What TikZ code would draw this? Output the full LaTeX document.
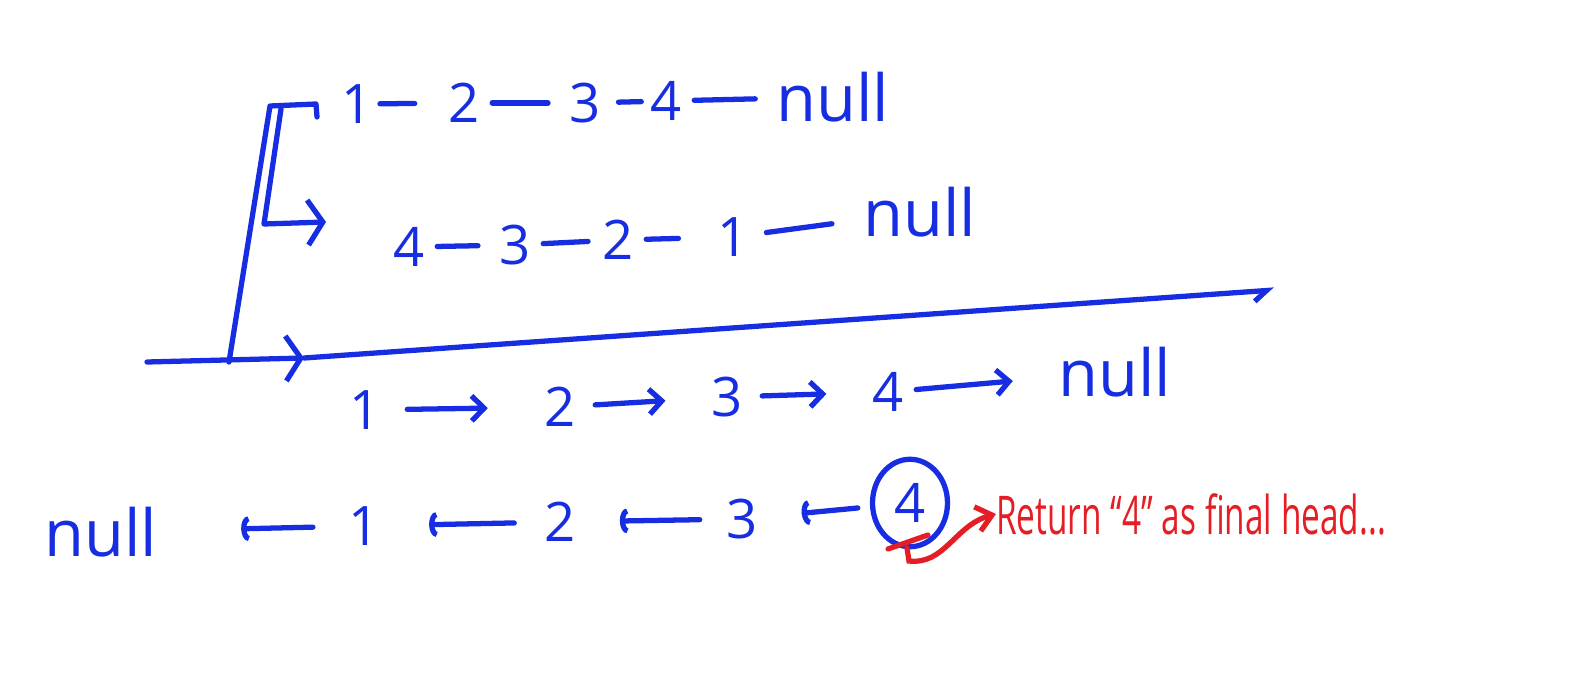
\documentclass[tikz,border=0pt]{standalone}
\usepackage{fontspec}
\usepackage{graphicx}
\setmainfont{Open Sans}
\usetikzlibrary{arrows.meta, positioning, shapes.geometric}
\definecolor{penblue}{RGB}{22,45,225}
\definecolor{penred}{RGB}{228,30,36}
\tikzset{
    item/.style={text=penblue, font=\fontsize{31}{36}\selectfont, inner sep=2pt},
    nullitem/.style={item, font=\fontsize{37}{40}\selectfont},
    headitem/.style={item, ellipse, draw=penblue, line width=3pt, minimum width=1.5cm, minimum height=1.75cm, inner sep=0pt},
    note/.style={text=penred, font=\fontsize{19}{22}\selectfont, inner sep=0pt},
    pen/.style={draw=penblue, line width=3pt, line cap=round, line join=round},
    link/.style={pen, shorten <=5pt, shorten >=10pt},
    arrow/.style={pen, shorten <=9pt, shorten >=24pt, -{Straight Barb[length=2.5mm, width=5mm]}},
    backarrow/.style={pen, shorten <=14pt, shorten >=23pt, -{Arc Barb[length=1.5mm, width=5mm]}},
    bigarrow/.style={pen, -{Straight Barb[length=3mm, width=9mm]}},
    redarrow/.style={draw=penred, line width=3pt, line cap=round, -{Straight Barb[length=3mm, width=5mm]}},
}

\begin{document}
\begin{tikzpicture}[x=0.02cm, y=-0.02cm]
    \useasboundingbox (0,0) rectangle (1583,675);

    % Bracket
    \coordinate (b0) at (147,362);
    \coordinate (bj) at (229,362);
    \coordinate (bm) at (304,358);
    \coordinate (br) at (1274,290);
    \coordinate (bt) at (270,106);
    \coordinate (bh) at (316,104);
    \coordinate (bk) at (317,117);
    \coordinate (bi) at (281,109);
    \coordinate (bc) at (264,224);
    \coordinate (be) at (326,222);

    \draw[pen] (bj) -- (bt) -- (bh) -- (bk);
    \draw[bigarrow] (bi) -- (bc) -- (be);
    \draw[bigarrow] (b0) -- (bm);
    \draw[pen, -{Straight Barb[length=2.5mm, width=4mm, right]}] (bm) -- (br);

    % Original list
    \node[item] (a1) at (357,104) {1};
    \node[item] (a2) at (464,103) {2};
    \node[item] (a3) at (585,103) {3};
    \node[item] (a4) at (666,101) {4};
    \node[nullitem] (anull) at (833,97) {null};
    \draw[link, shorten <=2pt, shorten >=17pt] (a1) -- (a2);
    \draw[link] (a2) -- (a3);
    \draw[link, shorten <=8pt, shorten >=3pt] (a3) -- (a4);
    \draw[link] (a4) -- (anull);

    % Reversed list
    \node[item] (r4) at (409,247) {4};
    \node[item] (r3) at (515,245) {3};
    \node[item] (r2) at (618,240) {2};
    \node[item] (r1) at (733,237) {1};
    \node[nullitem] (rnull) at (920,212) {null};
    \draw[link] (r4) -- (r3);
    \draw[link, shorten >=6pt] (r3) -- (r2);
    \draw[link, shorten >=20pt] (r2) -- (r1);
    \draw[link, shorten <=8pt, shorten >=16pt] (r1) -- (rnull);

    % Forward pointers
    \node[item] (f1) at (365,410) {1};
    \node[item] (f2) at (560,407) {2};
    \node[item] (f3) at (727,397) {3};
    \node[item] (f4) at (888,392) {4};
    \node[nullitem] (fnull) at (1115,372) {null};
    \draw[arrow, shorten <=13pt, shorten >=30pt] (f1) -- (f2);
    \draw[arrow] (f2) -- (f3);
    \draw[arrow] (f3) -- (f4);
    \draw[arrow, shorten <=5pt] (f4) -- (fnull);

    % Backward pointers
    \node[nullitem] (nnull) at (101,532) {null};
    \node[item] (n1) at (364,526) {1};
    \node[item] (n2) at (560,522) {2};
    \node[item] (n3) at (742,519) {3};
    \node[headitem] (n4) at (910,503) {4};
    \draw[backarrow, shorten <=18pt, shorten >=1.6cm] (n1) -- (nnull);
    \draw[backarrow, shorten <=15pt, shorten >=26pt] (n2) -- (n1);
    \draw[backarrow, shorten <=13pt] (n3) -- (n2);
    \draw[backarrow, shorten <=7pt] (n4) -- (n3);

    % Note
    \node[note, anchor=west] (final) at (996,514) {\scalebox{1}[1.6]{Return “4” as final head...}};
    \coordinate (u1) at (888,549);
    \coordinate (u2) at (928,535);
    \coordinate (c0) at (907,548);
    \coordinate (c1) at (909,561);
    \draw[draw=penred, line width=3pt, line cap=round] (u1) -- (u2);
    \draw[redarrow] (c0) -- (c1) .. controls (945,565) and (955,525) .. (final.west);
\end{tikzpicture}
\end{document}
